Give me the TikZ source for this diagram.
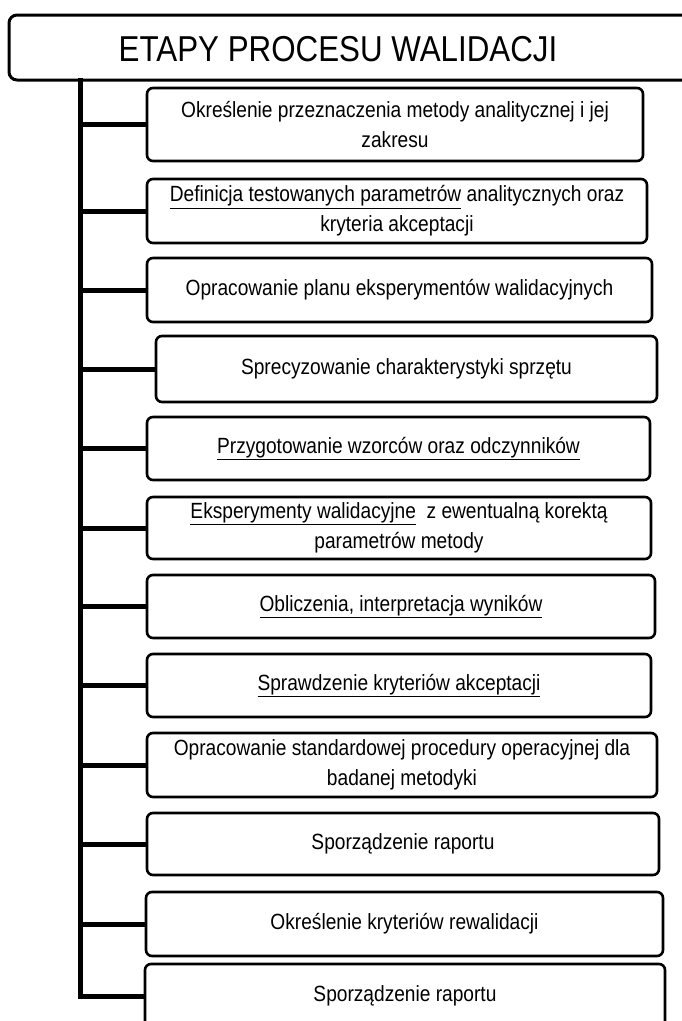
\documentclass[tikz,border=0pt]{standalone}
\usepackage{fontspec}
\setmainfont{Liberation Sans}[FakeStretch=0.87]
\begin{document}
\begin{tikzpicture}[x=1pt,y=-1pt,
  stagebox/.style={draw=black, line width=2.6pt, rounded corners=6pt, fill=white,
    align=center, inner sep=0pt, font=\fontsize{22}{30}\selectfont},
  titleframe/.style={draw=black, line width=3pt, rounded corners=8pt, fill=white},
  titletext/.style={font=\fontsize{36}{40}\selectfont, inner sep=0pt},
  trunk/.style={line width=5pt, line cap=rect},
  branch/.style={line width=5pt}]
\useasboundingbox (0,0) rectangle (682,1021);
\clip (0,0) rectangle (682,1021);
\fill[white] (0,0) rectangle (682,1021);

% header bar, open towards the right margin
\draw[titleframe] (740,15) -- (9,15) -- (9,80) -- (740,80);
\node[titletext] (title) at (338,49) {ETAPY PROCESU WALIDACJI};

% stages
\node[stagebox, minimum width=496pt, minimum height=73pt] (b1) at (395,124.5)
  {Określenie przeznaczenia metody analitycznej i jej\\zakresu};
\node[stagebox, minimum width=500pt, minimum height=64pt] (b2) at (397,211)
  {\underline{Definicja testowanych parametrów} analitycznych oraz\\kryteria akceptacji};
\node[stagebox, minimum width=505pt, minimum height=64pt] (b3) at (399.5,290)
  {Opracowanie planu eksperymentów walidacyjnych};
\node[stagebox, minimum width=501pt, minimum height=66pt] (b4) at (406.5,369)
  {Sprecyzowanie charakterystyki sprzętu};
\node[stagebox, minimum width=503pt, minimum height=63pt] (b5) at (398.5,448.5)
  {\underline{Przygotowanie wzorców oraz odczynników}};
\node[stagebox, minimum width=504pt, minimum height=62pt] (b6) at (399,528)
  {\underline{Eksperymenty walidacyjne}\ \ z ewentualną korektą\\parametrów metody};
\node[stagebox, minimum width=508pt, minimum height=63pt] (b7) at (401,606.5)
  {\underline{Obliczenia, interpretacja wyników}};
\node[stagebox, minimum width=504pt, minimum height=63pt] (b8) at (399,685.5)
  {\underline{Sprawdzenie kryteriów akceptacji}};
\node[stagebox, minimum width=510pt, minimum height=64pt] (b9) at (402,765)
  {Opracowanie standardowej procedury operacyjnej dla\\badanej metodyki};
\node[stagebox, minimum width=512pt, minimum height=62pt] (b10) at (403,844)
  {Sporządzenie raportu};
\node[stagebox, minimum width=517pt, minimum height=64pt] (b11) at (404.5,924)
  {Określenie kryteriów rewalidacji};
\node[stagebox, minimum width=520pt, minimum height=64pt] (b12) at (405,996)
  {Sporządzenie raportu};

% vertical spine and branches
\coordinate (spinetop) at (80,80);
\draw[trunk] (spinetop) |- (b12.west);
\foreach \n in {b1,b2,b3,b4,b5,b6,b7,b8,b9,b10,b11}
  \draw[branch] (spinetop |- \n.west) -- (\n.west);
\end{tikzpicture}
\end{document}
